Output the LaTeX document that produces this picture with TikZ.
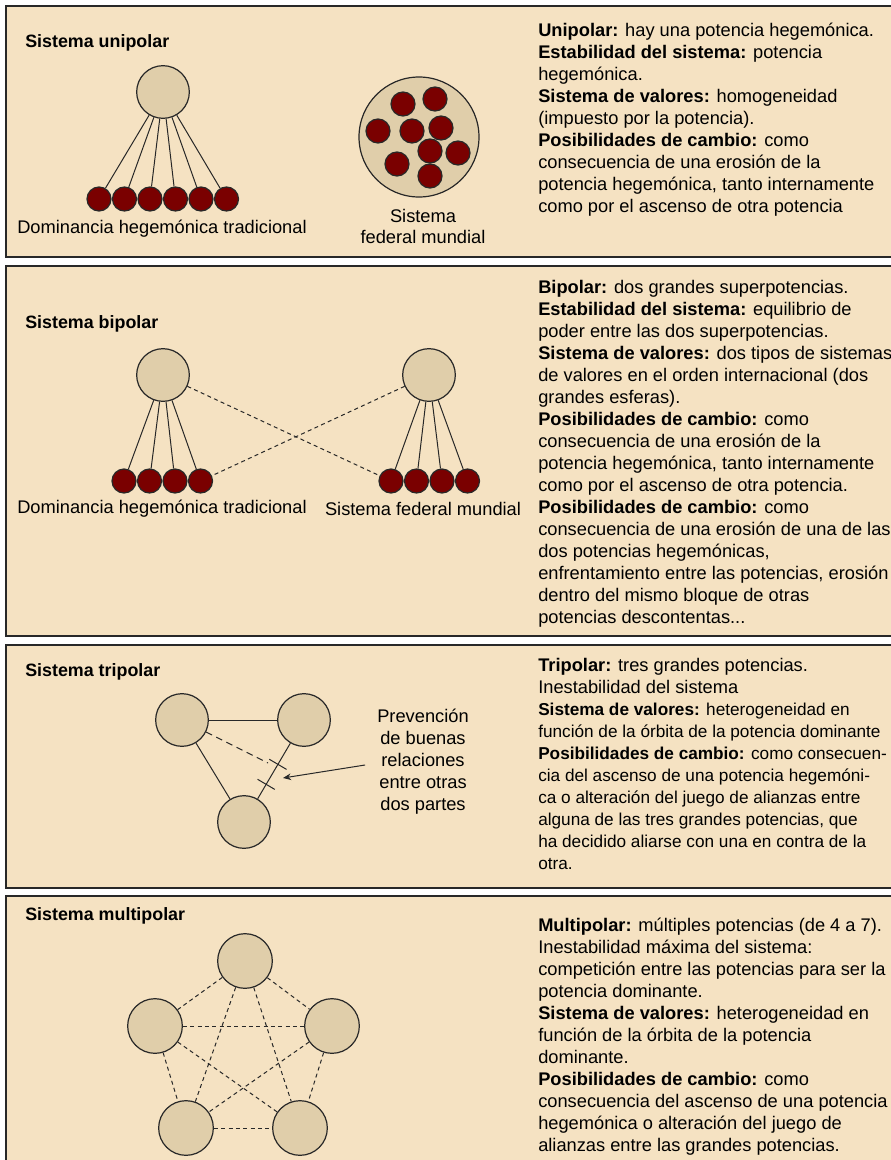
\documentclass[tikz,border=0pt]{standalone}
\usepackage{fontspec}
\setmainfont{Liberation Sans}
\usetikzlibrary{arrows.meta,calc}

\definecolor{panelbg}{RGB}{245,226,194}
\definecolor{potfill}{RGB}{224,206,170}
\definecolor{satfill}{RGB}{122,0,0}
\definecolor{edge}{RGB}{40,40,40}

\tikzset{
  panel/.style={draw=edge, line width=1.1pt, fill=panelbg},
  pot/.style={circle, draw=edge, line width=0.9pt, fill=potfill, minimum size=39.5pt, inner sep=0pt},
  bigpot/.style={pot, minimum size=41pt},
  sat/.style={circle, draw=edge, line width=0.9pt, fill=satfill, minimum size=18pt, inner sep=0pt},
  link/.style={draw=edge, line width=0.75pt},
  weak/.style={link, dash pattern=on 3pt off 2.5pt},
  title/.style={anchor=west, inner sep=0pt, font=\fontsize{13.4}{16}\selectfont\bfseries},
  body/.style={anchor=north west, inner sep=0pt, align=left, font=\fontsize{13.7}{16.5}\selectfont},
  label/.style={inner sep=0pt, align=center, font=\fontsize{13.7}{16}\selectfont}
}

\begin{document}
\begin{tikzpicture}[x=0.75pt,y=0.75pt,yscale=-1,xscale=1]
\useasboundingbox (0,0) rectangle (890,1160);
\fill[white] (0,0) rectangle (890,1160);

% Panels
\draw[panel] (6,6) rectangle (900,257);
\draw[panel] (6,266) rectangle (900,636);
\draw[panel] (6,645) rectangle (900,888);
\draw[panel] (6,896) rectangle (900,1170);

%%%%%%%%%%%%%%%% Sistema unipolar
% Text Node
\node[title] (uniTitle) at (25,43) {Sistema unipolar};

% Shape: Circle
\node[pot] (uniHeg) at (163,92) {};
% Shape: Circle
\node[sat] (uniS1) at (99,199) {};
\node[sat] (uniS2) at (124.5,199) {};
\node[sat] (uniS3) at (150,199) {};
\node[sat] (uniS4) at (175.5,199) {};
\node[sat] (uniS5) at (201,199) {};
\node[sat] (uniS6) at (226.5,199) {};
% Straight Lines
\draw[link] (uniHeg) -- (uniS1);
\draw[link] (uniHeg) -- (uniS2);
\draw[link] (uniHeg) -- (uniS3);
\draw[link] (uniHeg) -- (uniS4);
\draw[link] (uniHeg) -- (uniS5);
\draw[link] (uniHeg) -- (uniS6);
% Text Node
\node[label] (uniLabel) at (162,229) {Dominancia hegemónica tradicional};

% Shape: Circle
\node[pot, minimum size=90pt] (fed) at (419,137) {};
\node[sat] (fedS1) at (403,104) {};
\node[sat] (fedS2) at (435,99) {};
\node[sat] (fedS3) at (378,131) {};
\node[sat] (fedS4) at (412,131) {};
\node[sat] (fedS5) at (441,128) {};
\node[sat] (fedS6) at (430,151) {};
\node[sat] (fedS7) at (458,153) {};
\node[sat] (fedS8) at (397,164) {};
\node[sat] (fedS9) at (430,176) {};
% Text Node
\node[label] (fedLabel) at (423,226.5) {Sistema\\federal mundial};

% Text Node
\node[body] (uniText) at (538,23) {\textbf{Unipolar:} hay una potencia hegemónica.\\
\textbf{Estabilidad del sistema:} potencia\\
hegemónica.\\
\textbf{Sistema de valores:} homogeneidad\\
(impuesto por la potencia).\\
\textbf{Posibilidades de cambio:} como\\
consecuencia de una erosión de la\\
potencia hegemónica, tanto internamente\\
como por el ascenso de otra potencia};

%%%%%%%%%%%%%%%% Sistema bipolar
% Text Node
\node[title] (biTitle) at (25,324) {Sistema bipolar};

% Shape: Circle
\node[pot] (biL) at (163,375) {};
\node[pot] (biR) at (429,375) {};
\node[sat] (biL1) at (124,481) {};
\node[sat] (biL2) at (149.5,481) {};
\node[sat] (biL3) at (175,481) {};
\node[sat] (biL4) at (200.5,481) {};
\node[sat] (biR1) at (391,481) {};
\node[sat] (biR2) at (416.5,481) {};
\node[sat] (biR3) at (442,481) {};
\node[sat] (biR4) at (467.5,481) {};
% Straight Lines
\draw[link] (biL) -- (biL1);
\draw[link] (biL) -- (biL2);
\draw[link] (biL) -- (biL3);
\draw[link] (biL) -- (biL4);
\draw[link] (biR) -- (biR1);
\draw[link] (biR) -- (biR2);
\draw[link] (biR) -- (biR3);
\draw[link] (biR) -- (biR4);
\draw[weak] (biL) -- (biR1);
\draw[weak] (biR) -- (biL4);
% Text Node
\node[label] (biLabelL) at (162,509) {Dominancia hegemónica tradicional};
\node[label] (biLabelR) at (423,509) {Sistema federal mundial};

% Text Node
\node[body] (biText) at (538,280) {\textbf{Bipolar:} dos grandes superpotencias.\\
\textbf{Estabilidad del sistema:} equilibrio de\\
poder entre las dos superpotencias.\\
\textbf{Sistema de valores:} dos tipos de sistemas\\
de valores en el orden internacional (dos\\
grandes esferas).\\
\textbf{Posibilidades de cambio:} como\\
consecuencia de una erosión de la\\
potencia hegemónica, tanto internamente\\
como por el ascenso de otra potencia.\\
\textbf{Posibilidades de cambio:} como\\
consecuencia de una erosión de una de las\\
dos potencias hegemónicas,\\
enfrentamiento entre las potencias, erosión\\
dentro del mismo bloque de otras\\
potencias descontentas...};

%%%%%%%%%%%%%%%% Sistema tripolar
% Text Node
\node[title] (triTitle) at (25,672) {Sistema tripolar};

% Shape: Circle
\node[pot] (triA) at (182,720) {};
\node[pot] (triB) at (304,720) {};
\node[pot] (triC) at (244,822) {};
% Straight Lines
\draw[link] (triA) -- (triB);
\draw[link] (triA) -- (triC);
\draw[link] (triB) -- (triC) coordinate[pos=0.38] (cut1) coordinate[pos=0.74] (cut2);
\coordinate (weakEnd) at (268,763);
\draw[link, dash pattern=on 5pt off 3.5pt] (triA) -- (weakEnd);
\draw[link] ($(cut1)!7.5pt!90:(triB)$) -- ($(cut1)!7.5pt!-90:(triB)$);
\draw[link] ($(cut2)!7.5pt!90:(triB)$) -- ($(cut2)!7.5pt!-90:(triB)$);
% Text Node
\node[label, font=\fontsize{13.7}{16.5}\selectfont] (prev) at (423,762) {Prevención\\de buenas\\relaciones\\entre otras\\dos partes};
\coordinate (aim) at (283,778);
\draw[link, -{Stealth[length=6pt,width=5pt]}] ($(prev.west)+(-12,3)$) -- (aim);

% Text Node
\node[body] (triText) at (538,658) {\textbf{Tripolar:} tres grandes potencias.\\
Inestabilidad del sistema};
\node[body, font=\fontsize{12.9}{16.5}\selectfont] (triText2) at (538,703) {\textbf{Sistema de valores:} heterogeneidad en\\
función de la órbita de la potencia dominante\\
\textbf{Posibilidades de cambio:} como consecuen-\\
cia del ascenso de una potencia hegemóni-\\
ca o alteración del juego de alianzas entre\\
alguna de las tres grandes potencias, que\\
ha decidido aliarse con una en contra de la\\
otra.};

%%%%%%%%%%%%%%%% Sistema multipolar
% Text Node
\node[title] (mulTitle) at (25,916) {Sistema multipolar};

% Shape: Circle
\node[bigpot] (mulA) at (245,961) {};
\node[bigpot] (mulB) at (155,1026) {};
\node[bigpot] (mulC) at (332,1026) {};
\node[bigpot] (mulD) at (186,1128) {};
\node[bigpot] (mulE) at (300,1128) {};
% Straight Lines
\draw[weak] (mulA) -- (mulB);
\draw[weak] (mulA) -- (mulC);
\draw[weak] (mulA) -- (mulD);
\draw[weak] (mulA) -- (mulE);
\draw[weak] (mulB) -- (mulC);
\draw[weak] (mulB) -- (mulD);
\draw[weak] (mulB) -- (mulE);
\draw[weak] (mulC) -- (mulD);
\draw[weak] (mulC) -- (mulE);
\draw[weak] (mulD) -- (mulE);

% Text Node
\node[body] (mulText) at (538,918) {\textbf{Multipolar:} múltiples potencias (de 4 a 7).\\
Inestabilidad máxima del sistema:\\
competición entre las potencias para ser la\\
potencia dominante.\\
\textbf{Sistema de valores:} heterogeneidad en\\
función de la órbita de la potencia\\
dominante.\\
\textbf{Posibilidades de cambio:} como\\
consecuencia del ascenso de una potencia\\
hegemónica o alteración del juego de\\
alianzas entre las grandes potencias.};

\end{tikzpicture}
\end{document}
